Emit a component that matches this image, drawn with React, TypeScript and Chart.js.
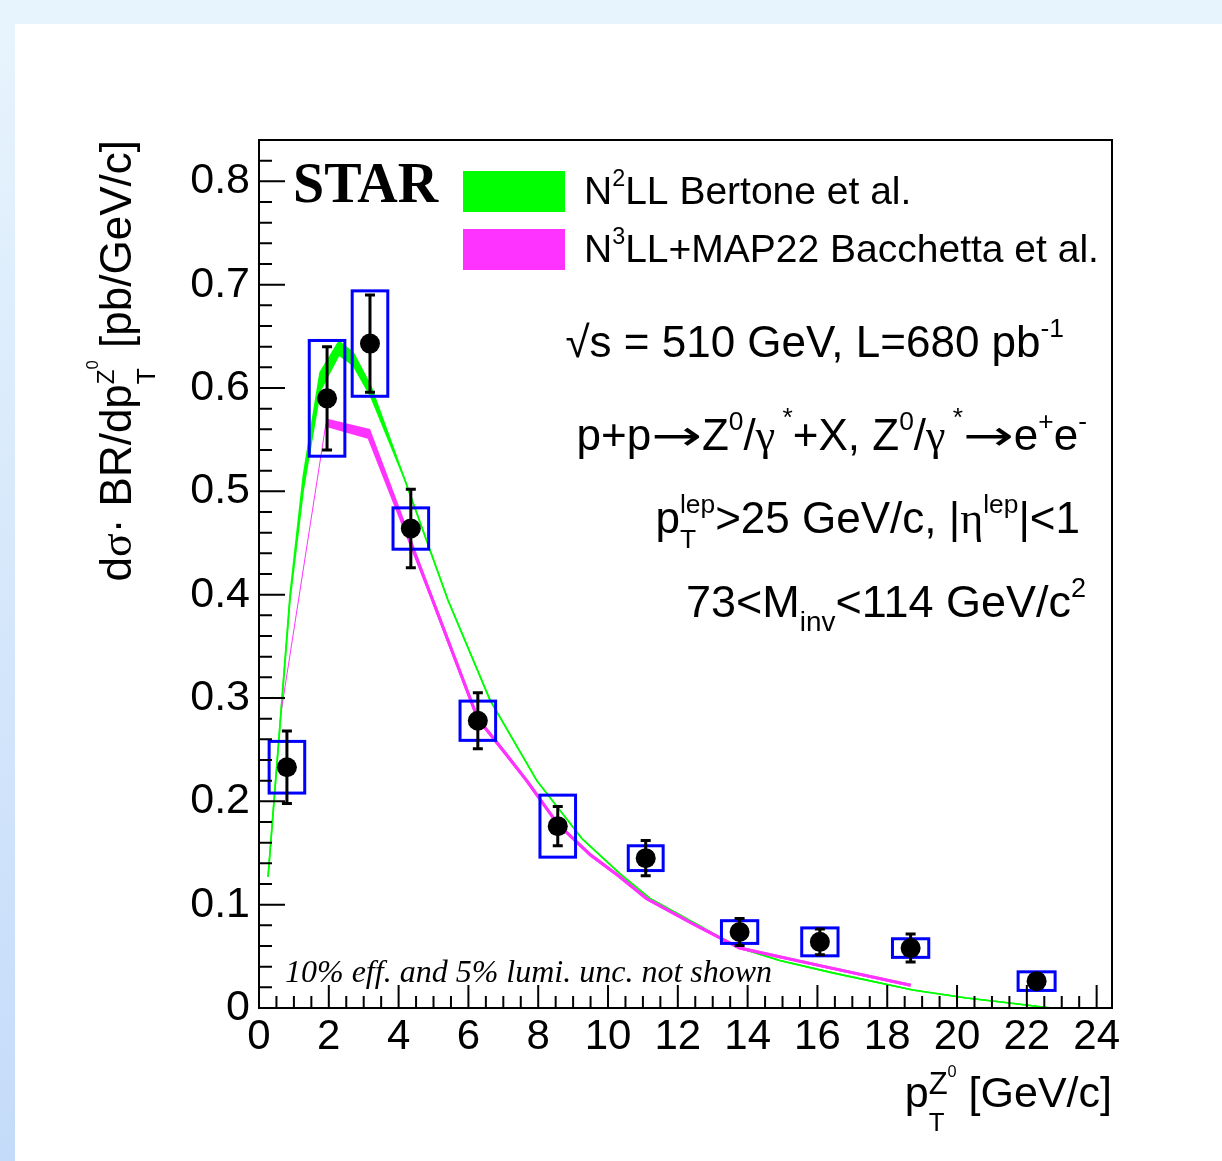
import React, { useEffect, useRef } from 'react';
import { Chart, registerables } from 'chart.js';

Chart.register(...registerables);

const W = 1222;
const H = 1161;
const SANS = '"Liberation Sans", Arial, Helvetica, sans-serif';
const SERIF = '"Liberation Serif", "Times New Roman", Times, serif';
const ARROW = '"DejaVu Sans", "Liberation Serif", serif';

// ---------- STAR measurement ----------
const ptCenters = [0.8, 1.95, 3.18, 4.35, 6.27, 8.56, 11.08, 13.77, 16.07, 18.67, 22.28];
const xsec = [0.233, 0.59, 0.643, 0.464, 0.278, 0.176, 0.145, 0.0735, 0.064, 0.058, 0.026];
const statErr = [0.035, 0.05, 0.047, 0.038, 0.027, 0.019, 0.017, 0.013, 0.0125, 0.0135, 0.006];
const sysErr = [0.025, 0.056, 0.051, 0.02, 0.019, 0.03, 0.012, 0.011, 0.0135, 0.009, 0.009];
const sysHalfWidth = [0.51, 0.51, 0.51, 0.51, 0.51, 0.51, 0.5, 0.52, 0.52, 0.52, 0.53];

// ---------- N2LL Bertone et al. (band) ----------
const bertoneX = [0.26, 0.89, 1.27, 1.75, 2.29, 2.7, 3.2, 4.18, 5.41, 6.62, 7.96, 9.25, 10.34, 11.2, 13.77, 14.92, 16.44, 18.73, 20.27, 21.2, 22.7];
const bertoneHi = [0.127, 0.4, 0.515, 0.615, 0.645, 0.634, 0.602, 0.511, 0.395, 0.298, 0.22, 0.164, 0.13, 0.106, 0.058, 0.046, 0.034, 0.0174, 0.0097, 0.006, 0.0];
const bertoneLo = [0.127, 0.396, 0.502, 0.597, 0.632, 0.622, 0.592, 0.511, 0.395, 0.298, 0.22, 0.164, 0.13, 0.106, 0.058, 0.046, 0.034, 0.0174, 0.0097, 0.006, 0.0];

// ---------- N3LL+MAP22 Bacchetta et al. ----------
const bacchettaThinX = [0.65, 1.92];
const bacchettaThinY = [0.29, 0.566];
const bacchettaX = [1.92, 3.15, 4.95, 6.27, 7.0, 7.67, 8.56, 9.5, 10.3, 11.1, 12.4, 13.77, 16.07, 18.67];
const bacchettaHi = [0.569, 0.559, 0.397, 0.28, 0.249, 0.22, 0.178, 0.148, 0.128, 0.106, 0.082, 0.058, 0.041, 0.022];
const bacchettaLo = [0.564, 0.552, 0.397, 0.28, 0.249, 0.22, 0.178, 0.148, 0.128, 0.106, 0.082, 0.058, 0.041, 0.022];

// ---------- axes ----------
const xMin = 0;
const xMax = 24.44;
const yMin = 0;
const yMax = 0.84;
const xMajorStep = 2;
const xMinorStep = 0.5;
const yMajorStep = 0.1;
const yMinorStep = 0.02;

const legendLabels = ['N2LL Bertone et al.', 'N3LL+MAP22 Bacchetta et al.'];
const footnote = '10% eff. and 5% lumi. unc. not shown';

const GREEN = '#00ff00';
const MAGENTA = '#ff33ff';
const BLUE = '#0000ff';

type Seg = { t: string; s?: number; dy?: number; hold?: boolean; fam?: string; sx?: number };

function segFont(g: Seg, size: number, fam: string, style: string) {
  const px = size * (g.s ?? 1);
  return `${style}${px.toFixed(1)}px ${g.fam ?? fam}`;
}

function richWidth(ctx: CanvasRenderingContext2D, segs: Seg[], size: number, fam: string, style: string) {
  let w = 0;
  for (const g of segs) {
    ctx.font = segFont(g, size, fam, style);
    if (!g.hold) w += ctx.measureText(g.t).width * (g.sx ?? 1);
  }
  return w;
}

function drawRich(
  ctx: CanvasRenderingContext2D,
  segs: Seg[],
  x: number,
  y: number,
  size: number,
  fam: string,
  style = '',
  align: 'left' | 'right' = 'left'
) {
  ctx.textBaseline = 'alphabetic';
  ctx.textAlign = 'left';
  let cx = align === 'right' ? x - richWidth(ctx, segs, size, fam, style) : x;
  for (const g of segs) {
    ctx.font = segFont(g, size, fam, style);
    const sx = g.sx ?? 1;
    const yy = y + (g.dy ?? 0) * size;
    if (sx !== 1) {
      ctx.save();
      ctx.translate(cx, yy);
      ctx.scale(sx, 1);
      ctx.fillText(g.t, 0, 0);
      ctx.restore();
    } else {
      ctx.fillText(g.t, cx, yy);
    }
    if (!g.hold) cx += ctx.measureText(g.t).width * sx;
  }
}

const SUP = -0.45;
const SUB = 0.3;

const info1: Seg[] = [{ t: '\u221A' }, { t: 's = 510 GeV, L=680 pb' }, { t: '-1', s: 0.6, dy: SUP }];
const info2: Seg[] = [
  { t: 'p+p' },
  { t: '\u2192', fam: ARROW, s: 0.95, sx: 1.45 },
  { t: 'Z' },
  { t: '0', s: 0.6, dy: SUP },
  { t: '/' },
  { t: '\u03B3', fam: SERIF },
  { t: ' *', s: 0.6, dy: -0.55 },
  { t: '+X, Z' },
  { t: '0', s: 0.6, dy: SUP },
  { t: '/' },
  { t: '\u03B3', fam: SERIF },
  { t: ' *', s: 0.6, dy: -0.55 },
  { t: '\u2192', fam: ARROW, s: 0.95, sx: 1.45 },
  { t: 'e' },
  { t: '+', s: 0.6, dy: SUP },
  { t: 'e' },
  { t: '-', s: 0.6, dy: SUP },
];
const info3: Seg[] = [
  { t: 'p' },
  { t: 'T', s: 0.6, dy: 0.35, hold: true },
  { t: 'lep', s: 0.6, dy: SUP },
  { t: '>25 GeV/c, |' },
  { t: '\u03B7', fam: SERIF },
  { t: 'lep', s: 0.6, dy: SUP },
  { t: '|<1' },
];
const info4: Seg[] = [
  { t: '73<M' },
  { t: 'inv', s: 0.62, dy: SUB },
  { t: '<114 GeV/c' },
  { t: '2', s: 0.6, dy: SUP },
];
const yTitle: Seg[] = [
  { t: 'd' },
  { t: '\u03C3', fam: SERIF },
  { t: '\u00B7 BR/dp' },
  { t: 'T', s: 0.6, dy: 0.55, hold: true },
  { t: 'Z', s: 0.55, dy: -0.38 },
  { t: '0', s: 0.38, dy: -0.75 },
  { t: ' [pb/GeV/c]' },
];
const xTitle: Seg[] = [
  { t: 'p' },
  { t: 'T', s: 0.6, dy: 0.55, hold: true },
  { t: 'Z', s: 0.72, dy: -0.3 },
  { t: '0', s: 0.38, dy: -0.7 },
  { t: ' [GeV/c]' },
];
const legend1: Seg[] = [{ t: 'N' }, { t: '2', s: 0.6, dy: SUP }, { t: 'LL Bertone et al.' }];
const legend2: Seg[] = [{ t: 'N' }, { t: '3', s: 0.6, dy: SUP }, { t: 'LL+MAP22 Bacchetta et al.' }];

const overlayPlugin = {
  id: 'overlay',
  beforeDatasetDraw(chart: any, args: any) {
    if (args.index !== 0) return;
    const ctx: CanvasRenderingContext2D = chart.ctx;
    const xs = chart.scales.x;
    const ys = chart.scales.y;
    ctx.save();
    ctx.strokeStyle = BLUE;
    ctx.lineWidth = 3;
    ptCenters.forEach((x, i) => {
      const x0 = xs.getPixelForValue(x - sysHalfWidth[i]);
      const x1 = xs.getPixelForValue(x + sysHalfWidth[i]);
      const y0 = ys.getPixelForValue(xsec[i] + sysErr[i]);
      const y1 = ys.getPixelForValue(xsec[i] - sysErr[i]);
      ctx.strokeRect(x0, y0, x1 - x0, y1 - y0);
    });
    ctx.strokeStyle = '#000';
    ctx.lineWidth = 3;
    ptCenters.forEach((x, i) => {
      const px = xs.getPixelForValue(x);
      const yt = ys.getPixelForValue(xsec[i] + statErr[i]);
      const yb = ys.getPixelForValue(xsec[i] - statErr[i]);
      ctx.beginPath();
      ctx.moveTo(px, yt);
      ctx.lineTo(px, yb);
      ctx.moveTo(px - 5, yt);
      ctx.lineTo(px + 5, yt);
      ctx.moveTo(px - 5, yb);
      ctx.lineTo(px + 5, yb);
      ctx.stroke();
    });
    ctx.restore();
  },
  afterDraw(chart: any) {
    const ctx: CanvasRenderingContext2D = chart.ctx;
    const xs = chart.scales.x;
    const ys = chart.scales.y;
    const { left, right, top, bottom } = chart.chartArea;
    ctx.save();
    ctx.strokeStyle = '#000';
    ctx.lineWidth = 2;
    ctx.strokeRect(left, top, right - left, bottom - top);
    ctx.beginPath();
    const nY = Math.round((yMax - yMin) / yMinorStep);
    for (let i = 0; i <= nY; i++) {
      const v = yMin + i * yMinorStep;
      if (v > yMax + 1e-9) break;
      const y = ys.getPixelForValue(v);
      const major = i % Math.round(yMajorStep / yMinorStep) === 0;
      ctx.moveTo(left, y);
      ctx.lineTo(left + (major ? 26 : 13), y);
    }
    const nX = Math.floor((xMax - xMin) / xMinorStep + 1e-9);
    for (let i = 0; i <= nX; i++) {
      const v = xMin + i * xMinorStep;
      const x = xs.getPixelForValue(v);
      const major = i % Math.round(xMajorStep / xMinorStep) === 0;
      ctx.moveTo(x, bottom);
      ctx.lineTo(x, bottom - (major ? 23 : 12));
    }
    ctx.stroke();

    ctx.fillStyle = '#000';
    // STAR label
    ctx.font = `bold 56px ${SERIF}`;
    ctx.textAlign = 'left';
    ctx.textBaseline = 'alphabetic';
    ctx.fillText('STAR', 293, 202);

    // legend
    ctx.fillStyle = GREEN;
    ctx.fillRect(463, 171, 102, 41);
    ctx.fillStyle = MAGENTA;
    ctx.fillRect(463, 229, 102, 41);
    ctx.fillStyle = '#000';
    drawRich(ctx, legend1, 584, 204, 39, SANS);
    drawRich(ctx, legend2, 584, 262, 39, SANS);

    // info text
    drawRich(ctx, info1, 1064, 357, 44, SANS, '', 'right');
    drawRich(ctx, info2, 1087, 450, 44, SANS, '', 'right');
    drawRich(ctx, info3, 1080, 533, 44, SANS, '', 'right');
    drawRich(ctx, info4, 1086, 617, 45, SANS, '', 'right');

    // footnote
    ctx.font = `italic 32px ${SERIF}`;
    ctx.textAlign = 'left';
    ctx.fillText(footnote, 285, 982);

    // x title
    drawRich(ctx, xTitle, 1112, 1107, 43, SANS, '', 'right');

    // y title
    ctx.save();
    ctx.translate(131, 140);
    ctx.rotate(-Math.PI / 2);
    drawRich(ctx, yTitle, 0, 0, 44, SANS, '', 'right');
    ctx.restore();
    ctx.restore();
  },
};

export default function App() {
  const canvasRef = useRef<HTMLCanvasElement | null>(null);

  useEffect(() => {
    const canvas = canvasRef.current;
    if (!canvas) return;
    const pts = (xs: number[], ys: number[]) => xs.map((x, i) => ({ x, y: ys[i] }));
    const chart = new Chart(canvas, {
      type: 'line',
      data: {
        datasets: [
          {
            type: 'scatter',
            label: 'STAR',
            data: pts(ptCenters, xsec),
            pointRadius: 10,
            pointBackgroundColor: '#000',
            pointBorderColor: '#000',
            pointBorderWidth: 0,
            showLine: false,
          } as any,
          {
            label: legendLabels[1] + ' hi',
            data: pts(bacchettaX, bacchettaHi),
            borderColor: MAGENTA,
            backgroundColor: MAGENTA,
            borderWidth: 3,
            pointRadius: 0,
            fill: '+1',
            tension: 0,
          },
          {
            label: legendLabels[1] + ' lo',
            data: pts(bacchettaX, bacchettaLo),
            borderColor: MAGENTA,
            borderWidth: 3,
            pointRadius: 0,
            fill: false,
            tension: 0,
          },
          {
            label: legendLabels[1] + ' low pT',
            data: pts(bacchettaThinX, bacchettaThinY),
            borderColor: MAGENTA,
            borderWidth: 1,
            pointRadius: 0,
            fill: false,
            tension: 0,
          },
          {
            label: legendLabels[0] + ' hi',
            data: pts(bertoneX, bertoneHi),
            borderColor: GREEN,
            backgroundColor: GREEN,
            borderWidth: 1.6,
            pointRadius: 0,
            fill: '+1',
            tension: 0,
          },
          {
            label: legendLabels[0] + ' lo',
            data: pts(bertoneX, bertoneLo),
            borderColor: GREEN,
            borderWidth: 1.6,
            pointRadius: 0,
            fill: false,
            tension: 0,
          },
        ],
      },
      options: {
        animation: false,
        responsive: false,
        layout: { padding: { top: 140, right: 110, left: 0, bottom: 0 } },
        plugins: { legend: { display: false }, tooltip: { enabled: false } },
        scales: {
          x: {
            type: 'linear',
            min: xMin,
            max: xMax,
            grid: { display: false },
            border: { display: false },
            ticks: {
              stepSize: xMajorStep,
              includeBounds: false,
              autoSkip: false,
              maxRotation: 0,
              color: '#000',
              padding: -4,
              font: { family: SANS, size: 42 },
              callback: (v: any) => String(v),
            },
            afterFit: (s: any) => {
              s.height = H - 1008;
            },
          },
          y: {
            type: 'linear',
            min: yMin,
            max: yMax,
            grid: { display: false },
            border: { display: false },
            ticks: {
              stepSize: yMajorStep,
              includeBounds: false,
              autoSkip: false,
              color: '#000',
              padding: 1,
              font: { family: SANS, size: 43 },
              callback: (v: any) => (Number(v) === 0 ? '0' : Number(v).toFixed(1)),
            },
            afterFit: (s: any) => {
              s.width = 259;
            },
          },
        },
      },
      plugins: [overlayPlugin],
    });
    return () => chart.destroy();
  }, []);

  return (
    <div
      style={{
        position: 'absolute',
        left: 0,
        top: 0,
        width: W,
        height: H,
        background: 'linear-gradient(to bottom, #e8f4fd, #c4dbf9)',
        overflow: 'hidden',
      }}
    >
      <div style={{ position: 'absolute', left: 0, top: 0, width: W, height: 24, background: '#e7f3fd' }} />
      <div style={{ position: 'absolute', left: 15, top: 24, right: 0, bottom: 0, background: '#ffffff' }} />
      <canvas
        ref={canvasRef}
        width={W}
        height={H}
        style={{ position: 'absolute', left: 0, top: 0, width: W, height: H }}
      />
    </div>
  );
}
